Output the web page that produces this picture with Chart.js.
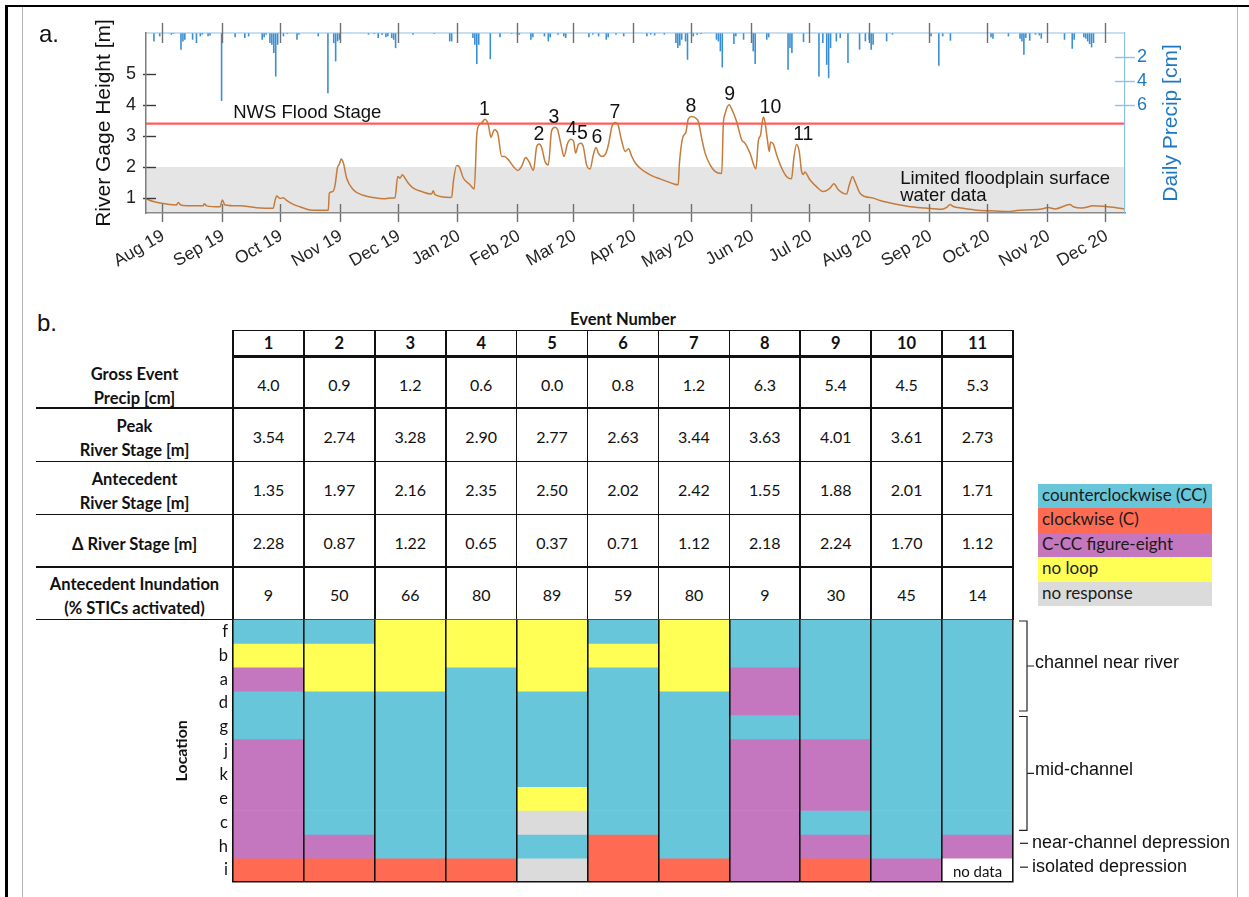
<!DOCTYPE html>
<html>
<head>
<meta charset="utf-8">
<script src="https://cdn.jsdelivr.net/npm/chart.js@4.4.1/dist/chart.umd.min.js"></script>
<style>
  html, body { margin: 0; padding: 0; background: #fff; }
  #page { position: relative; width: 1249px; height: 897px; overflow: hidden; background: #fff;
          font-family: 'Liberation Sans', Arial, sans-serif; }
  .abs { position: absolute; }
  .tag { position: absolute; font: 24px/24px 'Liberation Sans', Arial, sans-serif; color: #111; }
  .cell { position: absolute; display: flex; align-items: center; justify-content: center; text-align: center;
          font-family: Lato, 'Open Sans', sans-serif; color: #111; box-sizing: border-box; }
  .hd { font-weight: 700; font-size: 16.5px; line-height: 24px; }
  .val { font-size: 16px; }
  #legend div { height: 24.4px; line-height: 24.4px; padding-left: 4px; font: 17px Lato, 'Open Sans', sans-serif; color: #1a1a1a; }
</style>
</head>
<body>
<div id="page">
  <div class="abs" style="left:5px;top:4.5px;width:1244px;height:2.5px;background:#000"></div>
  <div class="abs" style="left:5px;top:4.5px;width:2.5px;height:893px;background:#000"></div>
  <div class="abs" style="left:21.5px;top:7px;width:1.5px;height:890px;background:#b5b5b5"></div>
  <div class="abs" style="left:1236.5px;top:7px;width:1.5px;height:890px;background:#b5b5b5"></div>

  <canvas id="stageChart" class="abs" width="1249" height="295" style="left:0;top:0;width:1249px;height:295px"></canvas>
  <div class="tag" style="left:39px;top:21.5px">a.</div>
  <div class="tag" style="left:37px;top:311px">b.</div>

  <div id="eventTable"></div>
  <canvas id="loopChart" class="abs" width="1249" height="297" style="left:0;top:600px;width:1249px;height:297px"></canvas>
  <div id="legend" class="abs" style="left:1038px;top:484px;width:174px"></div>
</div>

<script>
// ---------------- Panel a: river stage and daily precipitation ----------------
// x values are days since 1 Aug 2019
const monthLabels = ['Aug 19','Sep 19','Oct 19','Nov 19','Dec 19','Jan 20','Feb 20','Mar 20','Apr 20',
                     'May 20','Jun 20','Jul 20','Aug 20','Sep 20','Oct 20','Nov 20','Dec 20'];
const stageTicks = [1, 2, 3, 4, 5];
const precipTicks = [2, 4, 6];
const floodStage = 3.4;          // NWS flood stage [m]
const limitedDataTop = 2.0;      // stage below which floodplain surface water data are limited

// [day, river gage height m]
const stageSeries = [
  [-8.1,0.98],[-4.3,0.89],[-0.9,0.84],[7.7,0.78],[8.6,0.86],[9.8,0.78],[11.2,0.76],[21.5,0.75],[22.0,0.82],
  [23.3,0.75],[30.2,0.72],[31.4,0.94],[32.7,0.78],[40.5,0.75],[49.1,0.69],[57.7,0.67],[58.6,0.91],[59.5,1.07],
  [61.2,0.99],[62.9,1.01],[64.6,0.93],[68.1,0.80],[71.5,0.72],[76.7,0.62],[81.9,0.61],[86.2,0.61],[86.7,1.16],
  [88.5,1.21],[89.7,1.42],[90.9,1.97],[91.9,2.10],[92.9,2.26],[94.0,2.13],[95.7,1.64],[99.1,1.27],[104.3,1.09],
  [109.5,1.02],[114.7,0.98],[118.1,1.00],[120.7,1.00],[122.1,1.70],[123.3,1.64],[124.5,1.75],[125.9,1.64],
  [127.6,1.48],[130.2,1.32],[134.5,1.21],[139.6,1.13],[140.5,1.24],[141.4,1.11],[149.2,1.02],[150.0,1.03],
  [150.9,1.54],[152.6,2.05],[153.8,2.02],[156.1,1.64],[159.5,1.43],[161.7,1.29],[163.0,3.04],[164.2,3.36],
  [165.5,3.42],[167.2,3.54],[169.0,3.36],[170.3,2.96],[172.1,3.20],[173.8,3.10],[175.9,2.34],[177.3,2.34],
  [179.3,2.24],[181.9,2.02],[184.2,1.89],[186.2,2.02],[188.3,2.31],[190.0,2.18],[192.3,1.89],[194.0,2.66],
  [195.2,2.74],[196.6,2.62],[198.3,2.18],[200.0,2.07],[201.7,3.17],[203.5,3.28],[204.8,3.20],[206.9,2.62],
  [208.1,2.34],[210.0,2.77],[211.7,2.90],[213.1,2.83],[214.1,2.45],[215.5,2.72],[216.9,2.77],[218.1,2.66],
  [219.8,2.07],[221.6,1.94],[223.3,2.40],[224.7,2.63],[225.9,2.45],[227.7,2.34],[229.4,2.40],[231.1,2.72],
  [232.9,3.31],[234.6,3.44],[236.0,3.37],[238.0,2.83],[239.8,2.50],[241.5,2.59],[243.2,2.34],[245.0,2.13],
  [247.4,1.97],[250.9,1.81],[254.3,1.70],[257.8,1.62],[261.2,1.54],[264.7,1.46],[267.2,1.43],[267.8,2.10],
  [269.5,2.94],[271.2,3.13],[272.4,3.55],[274.2,3.63],[276.8,3.55],[277.6,3.47],[279.3,2.94],[281.1,2.45],
  [283.7,2.07],[286.2,1.86],[289.7,1.79],[290.5,3.36],[291.4,3.71],[293.6,4.01],[294.8,3.88],[297.4,3.47],
  [300.0,2.88],[301.7,2.77],[304.3,2.45],[307.4,1.94],[308.6,2.83],[309.8,3.04],[311.2,3.61],[312.0,3.47],
  [313.2,2.94],[314.3,2.50],[314.9,2.80],[316.4,2.74],[318.1,2.40],[320.7,1.97],[323.2,1.70],[325.8,1.62],
  [327.0,2.29],[328.4,2.73],[329.8,2.50],[331.0,1.86],[331.9,1.76],[332.7,1.84],[335.3,1.59],[338.7,1.37],
  [342.2,1.21],[345.7,1.32],[347.7,1.46],[350.0,1.27],[354.3,1.13],[355.7,1.43],[357.4,1.70],[358.6,1.54],
  [361.2,1.16],[363.8,1.05],[368.1,1.00],[371.6,0.92],[374.2,0.88],[379.3,0.81],[386.3,0.73],[394.9,0.68],
  [403.5,0.64],[406.1,0.70],[407.8,0.79],[409.5,0.73],[413.8,0.68],[420.7,0.62],[429.3,0.59],[437.9,0.57],
  [442.3,0.60],[446.6,0.62],[455.2,0.65],[458.6,0.70],[462.1,0.65],[469.8,0.79],[471.6,0.72],[475.9,0.68],
  [481.9,0.75],[487.9,0.73],[493.1,0.70],[498.3,0.65]
];

// [day, daily precipitation cm]
const precipSeries = [
  [-4,0.70],[-1,0.28],[5,0.14],[6,0.08],[10,1.39],[11,0.70],[12,0.56],[16,0.56],[18,0.84],[20,0.28],[21,0.14],
  [24,0.28],[25,0.20],[31,5.66],[38,0.36],[43,0.42],[45,0.28],[52,0.56],[53,0.36],[54,0.14],[56,0.84],[57,0.98],
  [58,1.67],[59,3.63],[60,0.98],[63,0.28],[65,0.08],[70,0.56],[71,0.14],[81,0.28],[86,5.02],[89,0.84],[90,2.37],
  [91,0.70],[92,0.56],[107,0.14],[110,0.08],[112,0.42],[114,0.14],[116,0.36],[117,0.28],[119,0.42],[120,0.56],
  [121,1.26],[130,0.14],[141,0.08],[149,0.70],[150,0.70],[161,0.42],[162,0.98],[163,2.59],[164,0.98],[170,2.18],
  [175,0.36],[181,0.08],[184,0.14],[185,0.14],[191,0.56],[192,0.36],[198,0.28],[200,0.70],[201,0.36],[205,0.14],
  [208,0.28],[209,0.42],[221,0.36],[223,0.14],[226,0.28],[230,0.56],[231,0.36],[235,0.14],[239,0.28],[251,0.28],
  [253,0.14],[255,0.20],[260,0.14],[266,0.84],[267,1.26],[268,1.05],[269,0.56],[271,0.70],[272,2.23],[275,0.28],
  [277,0.14],[279,0.08],[287,0.56],[288,0.70],[289,1.53],[290,2.87],[296,0.92],[297,0.28],[301,0.56],[306,1.53],
  [307,2.59],[313,0.56],[314,0.36],[324,3.07],[325,1.26],[326,1.67],[332,0.75],[340,3.63],[342,0.84],[344,2.65],
  [345,3.77],[346,1.26],[349,0.70],[351,0.42],[355,2.51],[361,1.39],[364,0.70],[366,0.56],[367,1.39],[368,0.98],
  [375,0.70],[378,0.14],[398,0.28],[402,2.73],[404,0.28],[408,0.64],[429,0.36],[430,0.47],[438,0.28],[444,0.47],
  [445,0.70],[446,1.81],[447,0.42],[449,0.64],[452,0.14],[454,0.20],[455,0.47],[467,0.56],[471,1.31],[472,0.56],
  [477,0.36],[478,0.47],[479,0.70],[480,0.92],[481,1.20],[482,0.84]
];

// ---------------- Panel b: event table ----------------
const eventNumbers = ['1','2','3','4','5','6','7','8','9','10','11'];
const eventDay = [166.9, 195.2, 202.9, 212.0, 217.6, 225.1, 234.5, 273.8, 293.8, 314.9, 331.9];
const grossPrecip = [4.0, 0.9, 1.2, 0.6, 0.0, 0.8, 1.2, 6.3, 5.4, 4.5, 5.3];
const peakStage = [3.54, 2.74, 3.28, 2.90, 2.77, 2.63, 3.44, 3.63, 4.01, 3.61, 2.73];
const antecedentStage = [1.35, 1.97, 2.16, 2.35, 2.50, 2.02, 2.42, 1.55, 1.88, 2.01, 1.71];
const deltaStage = [2.28, 0.87, 1.22, 0.65, 0.37, 0.71, 1.12, 2.18, 2.24, 1.70, 1.12];
const inundationPct = [9, 50, 66, 80, 89, 59, 80, 9, 30, 45, 14];

const locations = ['f','b','a','d','g','j','k','e','c','h','i'];
const loopCodes = ['CC','C','F8','NL','NR'];
const loopNames = ['counterclockwise (CC)','clockwise (C)','C-CC figure-eight','no loop','no response'];
const loopColors = ['#67c6da','#ff6b52','#c476bf','#ffff55','#dbdbdb'];
// hysteresis response per location (rows) and event (columns); ND = no data
const loopByLocation = [
  ['CC','CC','NL','NL','NL','CC','NL','CC','CC','CC','CC'],  // f
  ['NL','NL','NL','NL','NL','NL','NL','CC','CC','CC','CC'],  // b
  ['F8','NL','NL','CC','NL','CC','NL','F8','CC','CC','CC'],  // a
  ['CC','CC','CC','CC','CC','CC','CC','F8','CC','CC','CC'],  // d
  ['CC','CC','CC','CC','CC','CC','CC','CC','CC','CC','CC'],  // g
  ['F8','CC','CC','CC','CC','CC','CC','F8','F8','CC','CC'],  // j
  ['F8','CC','CC','CC','CC','CC','CC','F8','F8','CC','CC'],  // k
  ['F8','CC','CC','CC','NL','CC','CC','F8','F8','CC','CC'],  // e
  ['F8','CC','CC','CC','NR','CC','CC','F8','CC','CC','CC'],  // c
  ['F8','F8','CC','CC','CC','C','CC','F8','F8','CC','F8'],   // h
  ['C','C','C','C','NR','C','C','F8','C','F8','ND']          // i
];
const locationGroups = ['channel near river','mid-channel','near-channel depression','isolated depression'];
const groupFirstRow = [0, 4, 9, 10];
const groupRowCount = [4, 5, 1, 1];

// ---------------- shared styling ----------------
const sans = "'Liberation Sans', Arial, sans-serif";
const calibriLike = "Lato, 'Open Sans', sans-serif";
const riverColor = '#c47b3b';
const precipColor = '#3a8fd2';
const precipAxisColor = '#8fc0e8';
const precipTextColor = '#1f78c4';
const monthNames = ['Jan','Feb','Mar','Apr','May','Jun','Jul','Aug','Sep','Oct','Nov','Dec'];
const seriesOrigin = Date.UTC(2019, 7, 1);
const monthTicks = monthLabels.map(lbl => {
  const [mon, yy] = lbl.split(' ');
  return (Date.UTC(2000 + Number(yy), monthNames.indexOf(mon), 1) - seriesOrigin) / 86400000;
});
const xMin = -8.1, xMax = 498.3;

Chart.defaults.font.family = sans;
Chart.defaults.color = '#222';

function strokeLine(ctx, x1, y1, x2, y2) {
  ctx.beginPath(); ctx.moveTo(x1, y1); ctx.lineTo(x2, y2); ctx.stroke();
}

const stageDecor = {
  id: 'stageDecor',
  afterDatasetsDraw(chart) {
    const { ctx, chartArea: a, scales: { x, y, y2 } } = chart;
    ctx.save();
    // top edge of the precipitation axes
    ctx.strokeStyle = precipAxisColor; ctx.lineWidth = 1.2;
    strokeLine(ctx, a.left, a.top, a.right, a.top);

    // month tick marks on both time edges
    ctx.strokeStyle = '#6f6f6f'; ctx.lineWidth = 1.4;
    monthTicks.forEach(v => {
      const px = Math.round(x.getPixelForValue(v)) + 0.5;
      strokeLine(ctx, px, a.bottom - 9, px, a.bottom + 9);
      strokeLine(ctx, px, a.top - 10, px, a.top + 10);
    });
    // stage ticks
    ctx.strokeStyle = '#3a3a3a';
    stageTicks.forEach(v => {
      const py = Math.round(y.getPixelForValue(v)) + 0.5;
      strokeLine(ctx, a.left - 3, py, a.left + 10, py);
    });
    // precipitation ticks
    ctx.strokeStyle = precipAxisColor;
    precipTicks.forEach(v => {
      const py = Math.round(y2.getPixelForValue(v)) + 0.5;
      strokeLine(ctx, a.right - 10, py, a.right + 10, py);
    });

    // month labels
    ctx.fillStyle = '#262626';
    ctx.font = `17.5px ${sans}`;
    ctx.textAlign = 'right'; ctx.textBaseline = 'alphabetic';
    monthTicks.forEach((v, i) => {
      const px = x.getPixelForValue(v);
      ctx.save();
      ctx.translate(px + 4, a.bottom + 26);
      ctx.rotate(-30 * Math.PI / 180);
      ctx.fillText(monthLabels[i], 0, 0);
      ctx.restore();
    });

    // flood stage label
    ctx.fillStyle = '#111';
    ctx.textAlign = 'left';
    ctx.font = `18.5px ${sans}`;
    ctx.fillText('NWS Flood Stage', x.getPixelForValue(37), y.getPixelForValue(floodStage) - 5.5);

    // limited data note inside the shaded band
    const bandTop = y.getPixelForValue(limitedDataTop);
    ctx.font = `18.5px ${sans}`;
    ctx.fillText('Limited floodplain surface', x.getPixelForValue(382), bandTop + 17);
    ctx.fillText('water data', x.getPixelForValue(382), bandTop + 34.4);

    // event numbers above each peak
    ctx.textAlign = 'center';
    ctx.font = `19.5px ${sans}`;
    eventNumbers.forEach((n, i) => {
      ctx.fillText(n, x.getPixelForValue(eventDay[i]), y.getPixelForValue(peakStage[i]) - 4.5);
    });

    // right axis title, reading upward
    ctx.save();
    ctx.fillStyle = precipTextColor;
    ctx.font = `21px ${sans}`;
    ctx.textBaseline = 'middle';
    ctx.translate(1171, (a.top + a.bottom) / 2);
    ctx.rotate(-Math.PI / 2);
    ctx.fillText('Daily Precip [cm]', 0, 0);
    ctx.restore();

    ctx.restore();
  }
};

new Chart(document.getElementById('stageChart'), {
  type: 'bar',
  data: {
    datasets: [
      { type: 'line', label: 'River gage height', yAxisID: 'y', order: 0,
        data: stageSeries.map(([d, v]) => ({ x: d, y: v })),
        borderColor: riverColor, borderWidth: 1.5, pointRadius: 0, cubicInterpolationMode: 'monotone' },
      { type: 'line', label: 'NWS Flood Stage', yAxisID: 'y', order: 1,
        data: [{ x: xMin, y: floodStage }, { x: xMax, y: floodStage }],
        borderColor: '#ff5c5c', borderWidth: 2.2, pointRadius: 0 },
      { type: 'bar', label: 'Daily precip', yAxisID: 'y2', order: 2,
        data: precipSeries.map(([d, v]) => ({ x: d, y: v })),
        backgroundColor: precipColor, barThickness: 1.6, borderWidth: 0, inflateAmount: 0 },
      { type: 'line', label: 'Limited floodplain surface water data', yAxisID: 'y', order: 3,
        data: [{ x: xMin, y: limitedDataTop }, { x: xMax, y: limitedDataTop }],
        borderWidth: 0, pointRadius: 0, fill: 'start', backgroundColor: '#e5e5e5' }
    ]
  },
  options: {
    responsive: false, animation: false,
    layout: { padding: { top: 33, left: 0, right: 0, bottom: 0 } },
    plugins: { legend: { display: false }, tooltip: { enabled: false } },
    scales: {
      x: {
        type: 'linear', position: 'bottom', min: xMin, max: xMax, offset: false,
        afterBuildTicks: s => { s.ticks = monthTicks.map(v => ({ value: v })); },
        ticks: { display: false },
        grid: { display: false, drawTicks: false },
        border: { display: true, color: '#8a8a8a', width: 1.5, z: 1 },
        afterFit: s => { s.height = 82; }
      },
      y: {
        position: 'left', min: 0.52, max: 6.32,
        afterBuildTicks: s => { s.ticks = stageTicks.map(v => ({ value: v })); },
        ticks: { font: { size: 18 }, color: '#222', padding: 10 },
        grid: { display: false, drawTicks: false },
        border: { display: true, color: '#7d7d7d', width: 1.5, z: 1 },
        title: { display: true, text: 'River Gage Height [m]', font: { size: 21 }, color: '#111',
                 padding: { top: 92, bottom: 0 } },
        afterFit: s => { s.width = 146; }
      },
      y2: {
        position: 'right', min: 0, max: 15, reverse: true,
        afterBuildTicks: s => { s.ticks = precipTicks.map(v => ({ value: v })); },
        ticks: { font: { size: 18 }, color: precipTextColor, padding: 12 },
        grid: { display: false, drawTicks: false },
        border: { display: true, color: precipAxisColor, width: 1.2, z: 1 },
        afterFit: s => { s.width = 124; }
      }
    }
  },
  plugins: [stageDecor]
});

// ---------------- Panel b: table built from the event arrays ----------------
(function buildTable() {
  const host = document.getElementById('eventTable');
  const left = 233, right = 1013, colW = (right - left) / eventNumbers.length, labelLeft = 36;
  const headTop = 330.5, thickTop = 354.5, gridTop = 619.5;
  const rowEdges = [358, 408, 461.5, 514.3, 566.8, gridTop];
  const rows = [
    { label: ['Gross Event', 'Precip [cm]'], text: grossPrecip.map(v => v.toFixed(1)) },
    { label: ['Peak', 'River Stage [m]'], text: peakStage.map(v => v.toFixed(2)) },
    { label: ['Antecedent', 'River Stage [m]'], text: antecedentStage.map(v => v.toFixed(2)) },
    { label: ['\u0394 River Stage [m]'], text: deltaStage.map(v => v.toFixed(2)) },
    { label: ['Antecedent Inundation', '(% STICs activated)'], text: inundationPct.map(v => String(v)) }
  ];
  const add = (cls, x, y, w, h, html, extra) => {
    const d = document.createElement('div');
    d.className = cls;
    d.style.cssText = `left:${x}px;top:${y}px;width:${w}px;height:${h}px;` + (extra || '');
    if (html !== undefined) d.innerHTML = html;
    host.appendChild(d);
    return d;
  };
  const rule = (x, y, w, h) => add('abs', x, y, w, h, undefined, 'background:#111');

  add('cell hd', left, 308, right - left, 22, 'Event Number');
  eventNumbers.forEach((n, c) => add('cell hd', left + c * colW, headTop, colW, thickTop - headTop, n));
  rows.forEach((r, i) => {
    const top = rowEdges[i], h = rowEdges[i + 1] - top;
    add('cell hd', labelLeft, top + 3, left - labelLeft, h, r.label.join('<br>'));
    r.text.forEach((t, c) => add('cell val', left + c * colW, top + 1.5, colW, h, t));
  });

  rule(left, headTop - 0.75, right - left, 1.6);
  rule(left, thickTop, right - left, 3.6);
  for (let k = 0; k <= eventNumbers.length; k++) rule(left + k * colW - 0.8, headTop - 0.75, 1.6, gridTop - headTop + 0.75);
  for (let i = 1; i < rowEdges.length; i++) rule(labelLeft, rowEdges[i] - 0.8, right - labelLeft, 1.6);
})();

// legend of response types
(function buildLegend() {
  const host = document.getElementById('legend');
  loopNames.forEach((name, i) => {
    const d = document.createElement('div');
    d.style.background = loopColors[i];
    d.textContent = name;
    host.appendChild(d);
  });
})();

// ---------------- Panel b: response grid ----------------
const colorFor = code => code === 'ND' ? '#ffffff' : loopColors[loopCodes.indexOf(code)];

const gridNotes = {
  id: 'gridNotes',
  afterDraw(chart) {
    const { ctx, chartArea: a, scales: { y } } = chart;
    ctx.save();
    // cells without data
    ctx.fillStyle = '#111';
    ctx.font = `15px ${calibriLike}`;
    ctx.textAlign = 'center'; ctx.textBaseline = 'middle';
    loopByLocation.forEach((row, r) => row.forEach((code, c) => {
      if (code !== 'ND') return;
      const el = chart.getDatasetMeta(r).data[c];
      ctx.fillText('no data', el.x, (el.y + el.base) / 2 + 2);
    }));
    // location groups
    ctx.strokeStyle = '#222'; ctx.lineWidth = 1.2;
    ctx.font = `18px ${sans}`;
    ctx.textAlign = 'left';
    const xv = a.right + 14;
    locationGroups.forEach((name, g) => {
      const y0 = y.getPixelForValue(groupFirstRow[g]);
      const y1 = y.getPixelForValue(groupFirstRow[g] + groupRowCount[g]);
      if (groupRowCount[g] > 1) {
        const t = y0 + 1.5, b = y1 - 4, m = (t + b) / 2;
        ctx.beginPath();
        ctx.moveTo(xv - 8, t); ctx.lineTo(xv, t); ctx.lineTo(xv, b); ctx.lineTo(xv - 8, b);
        ctx.moveTo(xv, m); ctx.lineTo(xv + 7, m);
        ctx.stroke();
        ctx.fillText(name, xv + 8, m - 3);
      } else {
        const m = (y0 + y1) / 2 - 3;
        strokeLine(ctx, xv - 7, m, xv + 1, m);
        ctx.fillText(name, xv + 5, m);
      }
    });
    ctx.restore();
  }
};

new Chart(document.getElementById('loopChart'), {
  type: 'bar',
  data: {
    labels: eventNumbers,
    datasets: locations.map((loc, r) => ({
      label: loc,
      data: loopByLocation[r].map(() => 1),
      backgroundColor: loopByLocation[r].map(colorFor),
      borderWidth: 0, barPercentage: 1, categoryPercentage: 1, stack: 'cells'
    }))
  },
  options: {
    responsive: false, animation: false,
    layout: { padding: { top: 19.5, right: 236, bottom: 12, left: 0 } },
    plugins: { legend: { display: false }, tooltip: { enabled: false } },
    scales: {
      x: {
        stacked: true,
        ticks: { display: false },
        grid: { display: true, drawTicks: false, color: '#111', lineWidth: 1.6, offset: true, z: 1 },
        border: { display: true, color: '#111', width: 1.6, z: 2 },
        afterFit: s => { s.height = 0; }
      },
      y: {
        stacked: true, reverse: true, min: 0, max: locations.length,
        afterBuildTicks: s => { s.ticks = locations.map((_, i) => ({ value: i + 0.5 })); },
        ticks: { callback: (v, i) => locations[i], font: { family: calibriLike, size: 16.5 }, color: '#111', padding: 5 },
        grid: { display: false, drawTicks: false },
        border: { display: false },
        title: { display: true, text: 'Location', color: '#111',
                 font: { family: calibriLike, size: 16, weight: 'bold' }, padding: { top: 172, bottom: 0 } },
        afterFit: s => { s.width = 233; }
      }
    }
  },
  plugins: [gridNotes]
});
</script>
</body>
</html>
